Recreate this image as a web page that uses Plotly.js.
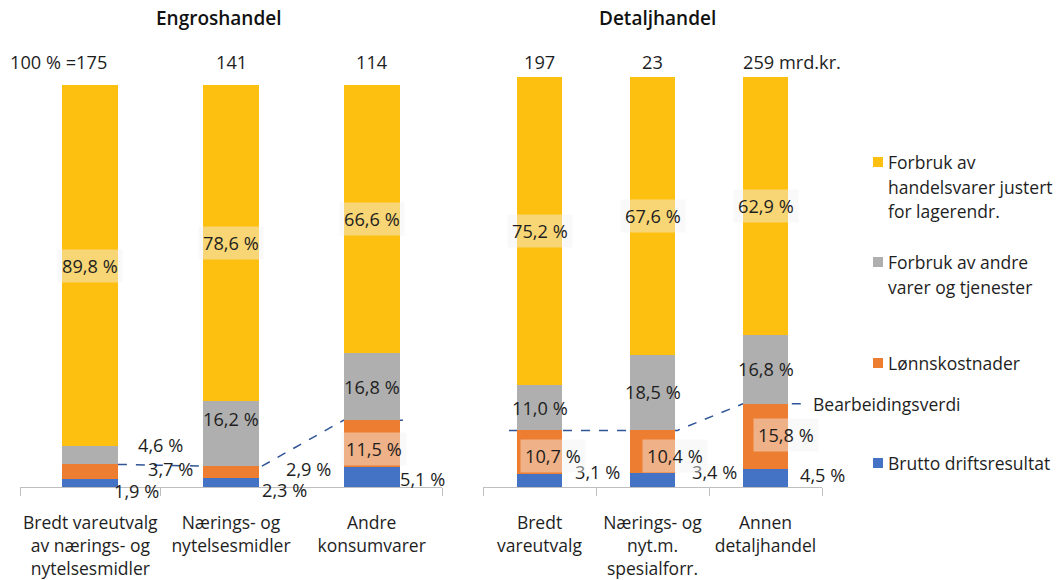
<!DOCTYPE html>
<html><head><meta charset="utf-8">
<script src="https://cdn.plot.ly/plotly-3.0.1.min.js"></script>
<style>html,body{margin:0;padding:0;background:#fff}</style>
</head><body><div id="chart" style="width:1056px;height:580px"></div>
<script>
// ---------- DATA ----------
const engrosTitle = "Engroshandel";
const detaljTitle = "Detaljhandel";
const engrosCategories = ["Bredt vareutvalg<br>av nærings- og<br>nytelsesmidler", "Nærings- og<br>nytelsesmidler", "Andre<br>konsumvarer"];
const engrosBrutto = [1.9, 2.3, 5.1];
const engrosLonn = [3.7, 2.9, 11.5];
const engrosAndre = [4.6, 16.2, 16.8];
const engrosHandelsvarer = [89.8, 78.6, 66.6];
const engrosTotals = [175, 141, 114];

const detaljCategories = ["Bredt<br>vareutvalg", "Nærings- og<br>nyt.m.<br>spesialforr.", "Annen<br>detaljhandel"];
const detaljBrutto = [3.1, 3.4, 4.5];
const detaljLonn = [10.7, 10.4, 15.8];
const detaljAndre = [11.0, 18.5, 16.8];
const detaljHandelsvarer = [75.2, 67.6, 62.9];
const detaljTotals = [197, 23, 259];

const legendLines = [
  ["Forbruk av", "handelsvarer justert", "for lagerendr."],
  ["Forbruk av andre", "varer og tjenester"],
  ["Lønnskostnader"],
  ["Brutto driftsresultat"]
];
const lineLabel = "Bearbeidingsverdi";
const totalPrefix = "100 % =";
const totalSuffix = " mrd.kr.";

// ---------- STYLE ----------
const W = 1056, H = 580;
const FONT = "Open Sans, Noto Sans, sans-serif";
const FS = 17.5;
const LFS = 18.2;
const TXT = "#1e1e1e";
const colors = ["#4472C4", "#ED7D31", "#AFAFAF", "#FDC010"]; // blue, orange, gray, yellow
const boxBg = "rgba(242,242,242,0.45)";

// label placement (offsets in category units / percentage points, styling only)
const placeEngros = [
  [{dx:0.33,dy:-1.95},{dx:0.38,dy:-1.9},{dx:0.36,dy:-0.55}],           // blue
  [{dx:0.57,dy:0.75},{dx:0.55,dy:0.75},{dx:0.02,dy:-1.35,box:true}],     // orange
  [{dx:0.5,dy:2.5},{dx:0,dy:3.6},{dx:0,dy:0}],                           // gray
  [{dx:0,dy:0,box:true},{dx:0,dy:0,box:true},{dx:0,dy:0,box:true}]       // yellow
];
const placeDetalj = [
  [{dx:0.51,dy:2.15},{dx:0.55,dy:2.0},{dx:0.5,dy:0.65}],
  [{dx:0.12,dy:-0.85,box:true},{dx:0.2,dy:-1.0,box:true},{dx:0.18,dy:0.3,box:true}],
  [{dx:0,dy:0},{dx:0,dy:0},{dx:0,dy:0}],
  [{dx:0,dy:0,box:true},{dx:0,dy:0,box:true},{dx:0,dy:0,box:true}]
];

const panels = [
  {xa:"x", ya:"y", cats:engrosCategories, vals:[engrosBrutto, engrosLonn, engrosAndre, engrosHandelsvarer],
   totals:engrosTotals, place:placeEngros, title:engrosTitle, titleX:219,
   xdom:[20, 442], ytop:85, lineStart:-0.06, lineEnd:0.24},
  {xa:"x2", ya:"y2", cats:detaljCategories, vals:[detaljBrutto, detaljLonn, detaljAndre, detaljHandelsvarer],
   totals:detaljTotals, place:placeDetalj, title:detaljTitle, titleX:657,
   xdom:[483, 822], ytop:77, lineStart:-0.27, lineEnd:0.36}
];
const baseline = 487;

const fmt = v => v.toFixed(1).replace(".", ",") + " %";

const traces = [];
const annotations = [];
const shapes = [];
const layout = {
  width: W, height: H, margin:{l:0,r:0,t:0,b:0},
  paper_bgcolor:"#fff", plot_bgcolor:"rgba(0,0,0,0)",
  barmode:"stack", showlegend:false, bargap:0,
  font:{family:FONT, size:FS, color:TXT},
  annotations, shapes
};

const textFont = {family:FONT, size:FS, color:TXT};
const labelFont = {family:FONT, size:LFS, color:TXT};

panels.forEach((p, pi) => {
  const idx = p.cats.map((c, i) => i);
  const pxPerUnit = (baseline - p.ytop) / 100;
  p.vals.forEach((arr, k) => {
    traces.push({type:"bar", x:idx, y:arr, width:0.4, xaxis:p.xa, yaxis:p.ya,
      marker:{color:colors[k], line:{width:0}}, hoverinfo:"skip", name:legendLines[3-k].join(" ")});
  });
  const xKey = pi === 0 ? "xaxis" : "xaxis2";
  const yKey = pi === 0 ? "yaxis" : "yaxis2";
  layout[xKey] = {
    domain:[p.xdom[0]/W, p.xdom[1]/W], range:[-0.5, idx.length - 0.5], anchor:p.ya,
    tickmode:"array", tickvals:idx, ticktext:p.cats, ticks:"", showgrid:false, zeroline:false,
    showline:true, linecolor:"#BFBFBF", linewidth:1,
    minor:{tickmode:"array", tickvals:idx.map(i => i - 0.5).concat([idx.length - 0.5]), ticks:"outside", ticklen:8, tickcolor:"#BFBFBF", tickwidth:1, showgrid:false},
    tickfont:textFont, ticklabelstandoff:20, fixedrange:true
  };
  layout[yKey] = {domain:[1 - baseline/H, 1 - p.ytop/H], range:[0, 100], visible:false, anchor:p.xa, fixedrange:true};

  // segment labels
  const cum = idx.map(() => 0);
  p.vals.forEach((arr, k) => {
    arr.forEach((v, i) => {
      const pl = p.place[k][i];
      let y = cum[i] + v/2 + pl.dy, ys = 0;
      if (y < 0) { ys = y * pxPerUnit; y = 0; }
      annotations.push({xref:p.xa, yref:p.ya, x:i + pl.dx, y, yshift:ys, yanchor:"middle", xanchor:"center",
        text:fmt(v), showarrow:false, font:labelFont,
        bgcolor: pl.box ? boxBg : "rgba(0,0,0,0)", borderpad: pl.box ? 4 : 1});
      cum[i] += v;
    });
  });

  // totals
  p.totals.forEach((t, i) => {
    const base = {xref:p.xa, yref:"paper", y:1 - 62/H, yanchor:"middle", showarrow:false, font:labelFont};
    if (pi === 0 && i === 0) {
      annotations.push(Object.assign({}, base, {x:i + 0.13, xanchor:"right", text:totalPrefix + t}));
    } else if (pi === 1 && i === p.totals.length - 1) {
      annotations.push(Object.assign({}, base, {x:i - 0.22, xanchor:"left", text:t + totalSuffix}));
    } else {
      annotations.push(Object.assign({}, base, {x:i, xanchor:"center", text:String(t)}));
    }
  });

  // panel title
  annotations.push({xref:"paper", yref:"paper", x:p.titleX/W, y:1 - 18/H, yanchor:"middle", xanchor:"center",
    text:p.title, showarrow:false, font:{family:FONT, size:19, color:"#111", weight:600}});

  // Bearbeidingsverdi line (value added = brutto + lønn)
  const bv = idx.map(i => p.vals[0][i] + p.vals[1][i]);
  let path = "";
  idx.forEach(i => {
    const x0 = i + (i === 0 ? p.lineStart : -0.2);
    const x1 = i + (i === idx.length - 1 ? p.lineEnd : 0.22);
    path += (i === 0 ? "M" : "L") + x0 + "," + bv[i] + "L" + x1 + "," + bv[i];
  });
  shapes.push({type:"path", xref:p.xa, yref:p.ya, path, layer:"below",
    line:{color:"#2F5597", width:1.5, dash:"dash"}});
  if (pi === 1) {
    annotations.push({xref:p.xa, yref:p.ya, x:idx.length - 1 + p.lineEnd + 0.04, y:bv[idx.length - 1],
      xanchor:"left", yanchor:"middle", text:lineLabel, showarrow:false, font:textFont});
  }
});

// custom legend
const legendY = [162, 262, 363, 463];
legendLines.forEach((lines, j) => {
  const col = colors[3 - j];
  shapes.push({type:"rect", xref:"paper", yref:"paper", x0:873/W, x1:883/W,
    y0:1 - (legendY[j] + 5)/H, y1:1 - (legendY[j] - 5)/H, fillcolor:col, line:{width:0}});
  lines.forEach((t, li) => {
    annotations.push({xref:"paper", yref:"paper", x:886/W, y:1 - (legendY[j] + li*24.5)/H,
      xanchor:"left", yanchor:"middle", text:t, showarrow:false, font:textFont});
  });
});

Plotly.newPlot("chart", traces, layout, {displayModeBar:false, staticPlot:true});
</script>
</body></html>
